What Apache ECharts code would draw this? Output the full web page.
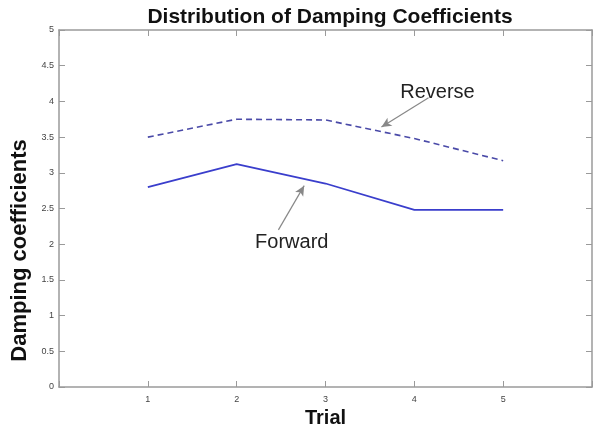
<!DOCTYPE html>
<html>
<head>
<meta charset="utf-8">
<script src="https://cdn.jsdelivr.net/npm/echarts@6/dist/echarts.min.js"></script>
<style>html,body{margin:0;padding:0;background:#fff}#c{width:602px;height:429px}</style>
</head>
<body>
<div id="c"></div>
<script>
var trials = [1, 2, 3, 4, 5];
var forward = [2.80, 3.12, 2.85, 2.48, 2.48];
var reverse = [3.50, 3.75, 3.74, 3.48, 3.17];
var yTicks = ['0','0.5','1','1.5','2','2.5','3','3.5','4','4.5','5'];
var reverseArrow = [[4.16, 4.05], [3.63, 3.64]];
var forwardArrow = [[2.47, 2.20], [2.76, 2.82]];
var reverseLabelAt = [4.26, 4.13];
var forwardLabelAt = [2.62, 2.02];

function pairs(xs, ys){ return xs.map(function(x,i){ return [x, ys[i]]; }); }

var chart = echarts.init(document.getElementById('c'), null, {renderer:'canvas'});
var font = 'Helvetica, "Liberation Sans", Arial, sans-serif';
var axisCol = '#9a9a9a';
function tickOnly(extra){
  return Object.assign({
    show: true,
    axisLine: {show: true, onZero: false, lineStyle: {color: axisCol, width: 1.5}},
    axisTick: {show: true, inside: true, length: 6, lineStyle: {color: axisCol}},
    axisLabel: {show: false}, splitLine: {show: false}
  }, extra);
}
chart.setOption({
  animation: false,
  backgroundColor: '#fff',
  title: {
    text: 'Distribution of Damping Coefficients',
    left: 325, top: 2, textAlign: 'center',
    textStyle: {fontFamily: font, fontSize: 21, fontWeight: 'bold', color: '#111'}
  },
  grid: {left: 59, right: 10, top: 30, bottom: 42, show: false, containLabel: false, outerBoundsMode: 'none'},
  xAxis: [{
    type: 'value', min: 0, max: 6, interval: 1, position: 'bottom',
    name: 'Trial', nameLocation: 'middle', nameGap: 21,
    nameTextStyle: {fontFamily: font, fontSize: 20, fontWeight: 'bold', color: '#111'},
    axisLine: {show: true, onZero: false, lineStyle: {color: axisCol, width: 1.5}},
    axisTick: {show: true, inside: true, length: 6, lineStyle: {color: axisCol}},
    axisLabel: {fontFamily: font, fontSize: 9, color: '#444', margin: 8,
      formatter: function(v){ return trials.indexOf(v) >= 0 ? String(v) : ''; }},
    splitLine: {show: false}
  }, tickOnly({type: 'value', min: 0, max: 6, interval: 1, position: 'top'})],
  yAxis: [{
    type: 'value', min: 0, max: 5, interval: 0.5, position: 'left',
    name: 'Damping coefficients', nameLocation: 'middle', nameGap: 24,
    nameTextStyle: {fontFamily: font, fontSize: 22, fontWeight: 'bold', color: '#111', padding: [0, 84, 0, 0]},
    axisLine: {show: true, onZero: false, lineStyle: {color: axisCol, width: 1.5}},
    axisTick: {show: true, inside: true, length: 6, lineStyle: {color: axisCol}},
    axisLabel: {fontFamily: font, fontSize: 9, color: '#444', margin: 5,
      formatter: function(v){ return yTicks[Math.round(v*2)]; }},
    splitLine: {show: false}
  }, tickOnly({type: 'value', min: 0, max: 5, interval: 0.5, position: 'right'})],
  series: [
    {
      name: 'Reverse', type: 'line', data: pairs(trials, reverse),
      showSymbol: false, symbol: 'none',
      lineStyle: {color: '#4a4aa8', width: 1.6, type: [6, 4]},
      markLine: {
        silent: true, symbol: ['none', 'arrow'], symbolSize: [7, 10],
        lineStyle: {color: '#888', width: 1.2, type: 'solid'}, label: {show: false},
        data: [[{coord: reverseArrow[0]}, {coord: reverseArrow[1]}]]
      },
      markPoint: {
        silent: true, symbol: 'rect', symbolSize: 0,
        label: {show: true, position: 'inside', formatter: 'Reverse', fontFamily: font, fontSize: 20, color: '#222'},
        data: [{coord: reverseLabelAt}]
      }
    },
    {
      name: 'Forward', type: 'line', data: pairs(trials, forward),
      showSymbol: false, symbol: 'none',
      lineStyle: {color: '#3a3ecc', width: 1.8},
      markLine: {
        silent: true, symbol: ['none', 'arrow'], symbolSize: [7, 10],
        lineStyle: {color: '#888', width: 1.2, type: 'solid'}, label: {show: false},
        data: [[{coord: forwardArrow[0]}, {coord: forwardArrow[1]}]]
      },
      markPoint: {
        silent: true, symbol: 'rect', symbolSize: 0,
        label: {show: true, position: 'inside', formatter: 'Forward', fontFamily: font, fontSize: 20, color: '#222'},
        data: [{coord: forwardLabelAt}]
      }
    }
  ]
});
</script>
</body>
</html>
